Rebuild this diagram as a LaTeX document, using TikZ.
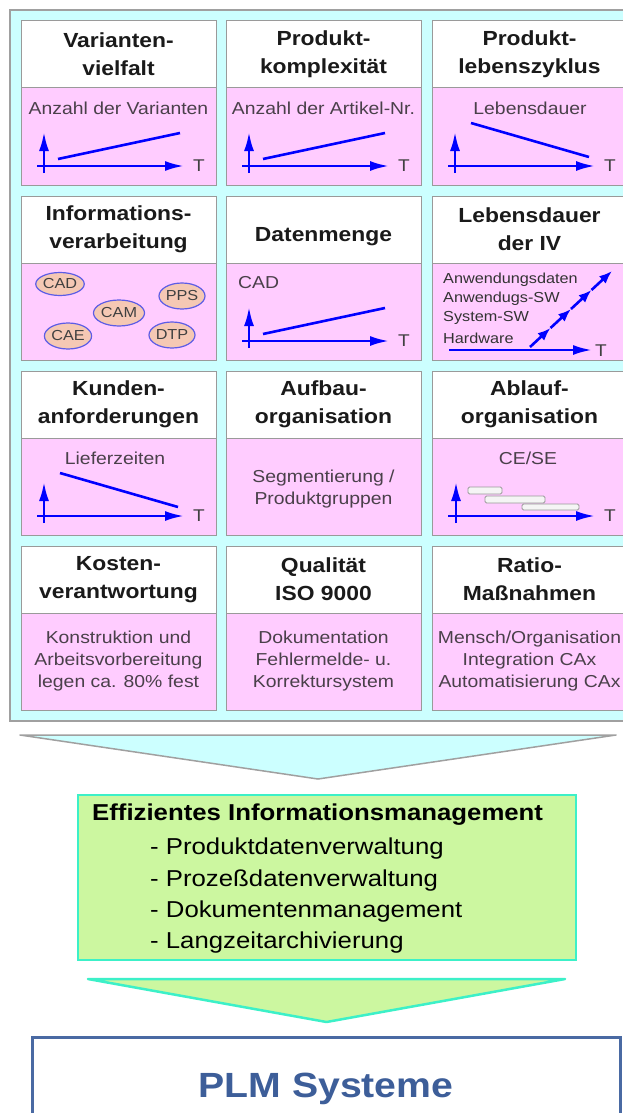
\documentclass[tikz,border=0pt]{standalone}
\usepackage{fontspec}
\setmainfont{Liberation Sans}[FakeStretch=1.12]
\usetikzlibrary{arrows.meta,shapes.geometric}

\definecolor{panelcyan}{HTML}{CCFFFF}
\definecolor{framegray}{HTML}{A0A0A0}
\definecolor{cellgray}{HTML}{9A9A9A}
\definecolor{pinkfill}{HTML}{FFCCFF}
\definecolor{pinktext}{HTML}{4A404A}
\definecolor{headtext}{HTML}{1A1A1A}
\definecolor{plotblue}{HTML}{0000FF}
\definecolor{ovalfill}{HTML}{F5C8B4}
\definecolor{ovaldraw}{HTML}{5C5CE6}
\definecolor{greenfill}{HTML}{CCF7A0}
\definecolor{greenedge}{HTML}{3CF0C8}
\definecolor{plmblue}{HTML}{4A6AA3}
\definecolor{plmtext}{HTML}{3D5E99}

\tikzset{
  hdr/.style={draw=cellgray, line width=1pt, fill=white, minimum width=195pt,
    minimum height=67pt, inner sep=0pt, outer sep=0pt, anchor=north west,
    align=center, text=headtext, font=\fontsize{20.4}{28}\selectfont\bfseries},
  body/.style={draw=cellgray, line width=1pt, fill=pinkfill, minimum width=195pt,
    minimum height=97pt, inner sep=0pt, outer sep=0pt, anchor=north west},
  note/.style={text=pinktext, align=center, inner sep=0pt,
    font=\fontsize{17.3}{20}\selectfont},
  widenote/.style={note, font=\fontsize{17.3}{22}\selectfont},
  small/.style={text=black!80, inner sep=0pt, anchor=west,
    font=\fontsize{14.5}{14.5}\selectfont},
  axis/.style={draw=plotblue, line width=2.6pt, -{Latex[length=19pt,width=10pt]}},
  chainarrow/.style={draw=plotblue, line width=2.6pt, -{Latex[length=13pt,width=10pt]}},
  curve/.style={draw=plotblue, line width=2.6pt},
  tlab/.style={text=black!75, inner sep=0pt, font=\fontsize{17}{17}\selectfont},
  oval/.style={ellipse, draw=ovaldraw, fill=ovalfill, line width=1.2pt,
    minimum width=46pt, minimum height=26pt, inner sep=0pt, text=black!75,
    font=\fontsize{14.5}{14.5}\selectfont},
  bar/.style={draw=black!40, fill=black!4, line width=0.9pt, rounded corners=1.5pt},
  pics/riseplot/.style={code={
    \draw[curve] (37,71) -- (159,45);
    \draw[axis] (16,78) -- (163,78);
    \draw[axis] (23,85) -- (23,44);
    \node[tlab] (-t) at (178,78) {T};
  }},
  pics/fallplot/.style={code={
    \draw[curve] (39,35) -- (157,69);
    \draw[axis] (16,78) -- (163,78);
    \draw[axis] (23,85) -- (23,44);
    \node[tlab] (-t) at (178,78) {T};
  }},
  pics/ganttplot/.style={code={
    \draw[bar] (36,49) rectangle (70,56);
    \draw[bar] (53,58) rectangle (113,65);
    \draw[bar] (90,66) rectangle (147,72);
    \draw[axis] (16,78) -- (163,78);
    \draw[axis] (24,85) -- (24,44);
    \node[tlab] (-t) at (178,78) {T};
  }},
  pics/chainplot/.style={code={
    \draw[axis] (17,87) -- (160,87);
    \node[tlab] (-t) at (169,88) {T};
    \draw[chainarrow] (98,84) -- (118.5,65);
    \draw[chainarrow] (118.5,65) -- (139,46);
    \draw[chainarrow] (139,46) -- (159.5,27);
    \draw[chainarrow] (159.5,27) -- (180,8);
  }},
}

\begin{document}
\begin{tikzpicture}[x=1pt,y=-1pt]
\useasboundingbox (0,0) rectangle (623,1113);
\fill[white] (0,0) rectangle (623,1113);

% background panel holding the twelve factors
\node[draw=framegray, fill=panelcyan, line width=1.5pt, minimum width=622pt,
  minimum height=711pt, inner sep=0pt, outer sep=0pt, anchor=north west]
  (panel) at (10,10) {};

% row 1
\node[hdr] (h11) at (21,21) {Varianten-\\vielfalt};
\node[hdr] (h12) at (226,21) {Produkt-\\komplexität};
\node[hdr] (h13) at (432,21) {Produkt-\\lebenszyklus};
\node[body] (b11) at (21,88) {};
\node[body] (b12) at (226,88) {};
\node[body] (b13) at (432,88) {};
\node[note] (n11) at (118.5,108) {Anzahl der Varianten};
\node[note] (n12) at (323.5,108) {Anzahl der Artikel-Nr.};
\node[note] (n13) at (530,108) {Lebensdauer};
\pic (c11) at (b11.north west) {riseplot};
\pic (c12) at (b12.north west) {riseplot};
\pic (c13) at (b13.north west) {fallplot};

% row 2
\node[hdr] (h21) at (21,196) {Informations-\\verarbeitung};
\node[hdr] (h22) at (226,196) {\mbox{}\\Datenmenge};
\node[hdr] (h23) at (432,196) {Lebensdauer\\der IV};
\node[body] (b21) at (21,263) {};
\node[body] (b22) at (226,263) {};
\node[body] (b23) at (432,263) {};
\node[oval, minimum width=45pt, minimum height=23pt] (cad) at (60,284) {CAD};
\node[oval] (pps) at (182,296) {PPS};
\node[oval] (cam) at (119,313) {CAM};
\node[oval] (cae) at (68,336) {CAE};
\node[oval] (dtp) at (172,335) {DTP};
\node[note, anchor=west] (n22) at (238,283) {CAD};
\pic (c22) at (b22.north west) {riseplot};
\node[small] (iv1) at (443,280) {Anwendungsdaten};
\node[small] (iv2) at (443,299) {Anwendugs-SW};
\node[small] (iv3) at (443,318) {System-SW};
\node[small] (iv4) at (443,338) {Hardware};
\pic (c23) at (b23.north west) {chainplot};

% row 3
\node[hdr] (h31) at (21,371) {Kunden-\\anforderungen};
\node[hdr] (h32) at (226,371) {Aufbau-\\organisation};
\node[hdr] (h33) at (432,371) {Ablauf-\\organisation};
\node[body] (b31) at (21,438) {};
\node[body] (b32) at (226,438) {};
\node[body] (b33) at (432,438) {};
\node[note] (n31) at (115,458) {Lieferzeiten};
\node[widenote] (n32) at (323.5,489) {Segmentierung /\\Produktgruppen};
\node[note] (n33) at (528,458) {CE/SE};
\pic (c31) at (b31.north west) {fallplot};
\pic (c33) at (b33.north west) {ganttplot};

% row 4
\node[hdr] (h41) at (21,546) {Kosten-\\verantwortung};
\node[hdr] (h42) at (226,546) {Qualität\\ISO 9000};
\node[hdr] (h43) at (432,546) {Ratio-\\Maßnahmen};
\node[body] (b41) at (21,613) {};
\node[body] (b42) at (226,613) {};
\node[body] (b43) at (432,613) {};
\node[widenote] (n41) at (118.5,661) {Konstruktion und\\Arbeitsvorbereitung\\legen ca. 80\% fest};
\node[widenote] (n42) at (323.5,661) {Dokumentation\\Fehlermelde- u.\\Korrektursystem};
\node[widenote] (n43) at (529.5,661) {Mensch/Organisation\\Integration CAx\\Automatisierung CAx};

% funnel arrow below the panel
\draw[fill=panelcyan, draw=framegray, line width=1.5pt, line join=round]
  (20,735) -- (616,735) -- (318,779) -- cycle;

% information management box
\node[draw=greenedge, fill=greenfill, line width=2.5pt, minimum width=498pt,
  minimum height=165pt, inner sep=0pt, outer sep=0pt, anchor=north west]
  (gbox) at (78,795) {};
\node[anchor=base west, inner sep=0pt, text=black,
  font=\fontsize{23}{23}\selectfont\bfseries] (gtitle) at (92,820)
  {Effizientes Informationsmanagement};
\begin{scope}[every node/.style={anchor=base west, inner sep=0pt, text=black,
  font=\fontsize{23}{23}\selectfont}]
\node (g1) at (150,854) {- Produktdatenverwaltung};
\node (g2) at (150,886) {- Prozeßdatenverwaltung};
\node (g3) at (150,917) {- Dokumentenmanagement};
\node (g4) at (150,948) {- Langzeitarchivierung};
\end{scope}

% second funnel arrow
\draw[fill=greenfill, draw=greenedge, line width=2.5pt, line join=round]
  (88,979) -- (565,979) -- (326.5,1022) -- cycle;

% result box
\node[draw=plmblue, fill=white, line width=3pt, minimum width=588pt,
  minimum height=95pt, inner sep=0pt, outer sep=0pt, anchor=north west]
  (plm) at (32,1037) {};
\node[anchor=base, inner sep=0pt, text=plmtext,
  font=\fontsize{35}{35}\selectfont\bfseries] (plmlabel) at (326,1097)
  {PLM Systeme};
\end{tikzpicture}
\end{document}
